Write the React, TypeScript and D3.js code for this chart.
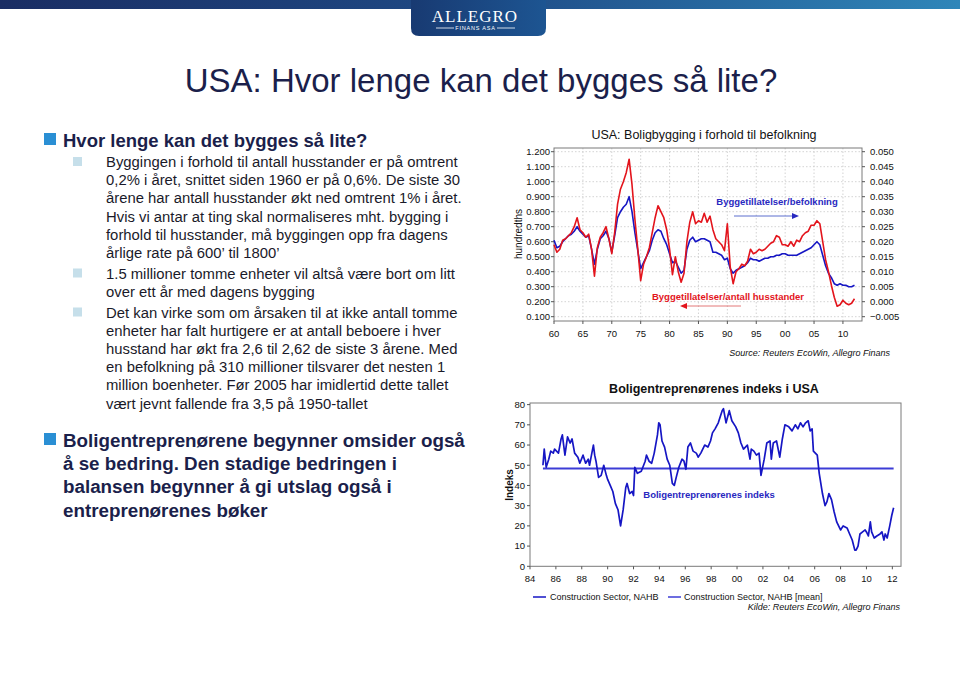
import React from "react";
import * as d3 from "d3";

const FONT = "'Liberation Sans', Arial, Helvetica, sans-serif";
const NAVY = "#1b1f4b";
const RED = "#e3141c";
const BLUE = "#1616c4";
const MEAN_BLUE = "#3c3cd6";

// top chart, half-yearly samples starting 1960
const topStart = 1960;
// building permits / households (left axis, hundredths)
const permitsPerHousehold = [
  0.58, 0.53, 0.55, 0.61, 0.62, 0.64, 0.66, 0.7, 0.76, 0.68,
  0.66, 0.63, 0.65, 0.55, 0.37, 0.56, 0.63, 0.66, 0.7, 0.62,
  0.52, 0.66, 0.85, 0.95, 1.0, 1.06, 1.15, 0.98, 0.75, 0.55,
  0.34, 0.45, 0.5, 0.56, 0.66, 0.76, 0.84, 0.8, 0.76, 0.68,
  0.55, 0.38, 0.5, 0.4, 0.33, 0.39, 0.6, 0.73, 0.8, 0.72,
  0.74, 0.73, 0.79, 0.73, 0.77, 0.68, 0.62, 0.6, 0.58, 0.54,
  0.72, 0.43, 0.32, 0.4, 0.42, 0.45, 0.44, 0.47, 0.55, 0.52,
  0.53, 0.55, 0.54, 0.55, 0.57, 0.59, 0.6, 0.64, 0.63, 0.58,
  0.58, 0.57, 0.6, 0.57, 0.61, 0.6, 0.64, 0.66, 0.67, 0.71,
  0.71, 0.74, 0.72, 0.6, 0.48, 0.4, 0.31, 0.23, 0.17, 0.18,
  0.21, 0.19, 0.18, 0.19, 0.22,
];
// building permits / population (right axis)
const permitsPerCapita = [
  0.0205, 0.018, 0.0185, 0.02, 0.021, 0.022, 0.0225, 0.0235, 0.025, 0.0235,
  0.0225, 0.0215, 0.022, 0.0175, 0.0125, 0.0175, 0.021, 0.022, 0.0235, 0.021,
  0.0165, 0.022, 0.028, 0.03, 0.0315, 0.0325, 0.035, 0.03, 0.023, 0.017,
  0.011, 0.013, 0.015, 0.017, 0.0205, 0.023, 0.024, 0.0235, 0.021, 0.019,
  0.016, 0.013, 0.0135, 0.0115, 0.0095, 0.0105, 0.0175, 0.0205, 0.0215, 0.02,
  0.0205, 0.021, 0.021, 0.0205, 0.02, 0.0165, 0.0165, 0.016, 0.0155, 0.014,
  0.0145, 0.011, 0.0095, 0.0105, 0.011, 0.0115, 0.012, 0.013, 0.0145, 0.014,
  0.014, 0.0135, 0.014, 0.0145, 0.0145, 0.015, 0.015, 0.0155, 0.0155, 0.016,
  0.016, 0.0155, 0.0155, 0.0155, 0.0155, 0.016, 0.0165, 0.017, 0.0175, 0.018,
  0.019, 0.02, 0.019, 0.0155, 0.012, 0.0095, 0.008, 0.006, 0.0055, 0.006,
  0.0055, 0.0055, 0.005, 0.005, 0.0055,
];
const topLeftTicks = [1.2, 1.1, 1.0, 0.9, 0.8, 0.7, 0.6, 0.5, 0.4, 0.3, 0.2, 0.1];
const topRightTicks = [0.05, 0.045, 0.04, 0.035, 0.03, 0.025, 0.02, 0.015, 0.01, 0.005, 0, -0.005];
const topYearTicks = [1960, 1965, 1970, 1975, 1980, 1985, 1990, 1995, 2000, 2005, 2010];

// bottom chart: NAHB housing market index
const nahbYears = [
  1985.0, 1985.1, 1985.25, 1985.45, 1985.6, 1985.8, 1985.9, 1986.2, 1986.4, 1986.5,
  1986.7, 1986.9, 1987.1, 1987.25, 1987.45, 1987.7, 1987.85, 1988.1, 1988.3, 1988.5,
  1988.6, 1988.75, 1988.9, 1989.0, 1989.1, 1989.3, 1989.5, 1989.7, 1989.9, 1990.0,
  1990.2, 1990.4, 1990.6, 1990.8, 1991.0, 1991.2, 1991.4, 1991.5, 1991.7, 1991.9,
  1992.0, 1992.1, 1992.3, 1992.6, 1992.9, 1993.0, 1993.2, 1993.4, 1993.6, 1993.85,
  1993.95, 1994.05, 1994.2, 1994.4, 1994.6, 1994.8, 1995.0, 1995.15, 1995.3, 1995.5,
  1995.75, 1995.9, 1996.05, 1996.2, 1996.4, 1996.6, 1996.85, 1997.0, 1997.2, 1997.5,
  1997.75, 1997.95, 1998.1, 1998.3, 1998.55, 1998.85, 1998.95, 1999.15, 1999.4, 1999.6,
  1999.9, 2000.1, 2000.3, 2000.5, 2000.8, 2001.0, 2001.1, 2001.3, 2001.5, 2001.7,
  2001.85, 2002.1, 2002.3, 2002.55, 2002.65, 2002.8, 2003.05, 2003.3, 2003.5, 2003.7,
  2004.0, 2004.25, 2004.5, 2004.7, 2004.9, 2005.1, 2005.3, 2005.5, 2005.65, 2005.8,
  2005.9, 2006.2, 2006.35, 2006.6, 2006.8, 2006.95, 2007.1, 2007.3, 2007.5, 2007.7,
  2008.0, 2008.2, 2008.5, 2008.7, 2008.9, 2009.1, 2009.2, 2009.35, 2009.5, 2009.7,
  2009.9, 2010.0, 2010.15, 2010.3, 2010.4, 2010.6, 2010.8, 2011.05, 2011.2, 2011.35,
  2011.45, 2011.6, 2011.8, 2011.95, 2012.1,
];
const nahbValues = [
  50, 58, 49, 53, 57, 56, 58, 56, 63, 65,
  55, 64, 61, 63, 56, 54, 51, 55, 51, 53,
  50, 55, 60, 55, 52, 44, 45, 50, 45, 43,
  40, 37, 31, 28, 20, 28, 39, 41, 36, 37,
  35, 49, 46, 47, 52, 55, 52, 51, 56, 65,
  71, 70, 62, 59, 53, 50, 41, 40, 44, 49,
  53, 52, 48, 59, 61, 57, 56, 54, 56, 60,
  59, 62, 66, 68, 71, 77, 78, 71, 77, 72,
  69, 66, 61, 58, 60, 53, 58, 57, 55, 56,
  45, 53, 61, 62, 53, 61, 62, 54, 63, 70,
  69, 67, 70, 68, 71, 69, 71, 72, 67, 68,
  57, 55, 46, 36, 30, 32, 36, 33, 27, 22,
  18, 20, 19, 16, 13, 8, 8, 10, 16, 17,
  18, 17, 15, 22, 17, 14, 15, 16, 17, 13,
  16, 14, 20, 25, 29,
];
const nahbMean = 48.4;
const nahbYearTicks = [1984, 1986, 1988, 1990, 1992, 1994, 1996, 1998, 2000, 2002, 2004, 2006, 2008, 2010, 2012];
const nahbValueTicks = [0, 10, 20, 30, 40, 50, 60, 70, 80];

const bulletA = [
  "Byggingen i forhold til antall husstander er på omtrent",
  "0,2% i året, snittet siden 1960 er på 0,6%. De siste 30",
  "årene har antall husstander økt ned omtrent 1% i året.",
  "Hvis vi antar at ting skal normaliseres mht. bygging i",
  "forhold til husstander, må byggingen opp fra dagens",
  "årlige rate på 600’ til 1800’",
];
const bulletB = [
  "1.5 millioner tomme enheter vil altså være bort om litt",
  "over ett år med dagens bygging",
];
const bulletC = [
  "Det kan virke som om årsaken til at ikke antall tomme",
  "enheter har falt hurtigere er at antall beboere i hver",
  "husstand har økt fra 2,6 til 2,62 de siste 3 årene. Med",
  "en befolkning på 310 millioner tilsvarer det nesten 1",
  "million boenheter. Før 2005 har imidlertid dette tallet",
  "vært jevnt fallende fra 3,5 på 1950-tallet",
];
const bulletMain2 = [
  "Boligentreprenørene begynner omsider også",
  "å se bedring. Den stadige bedringen i",
  "balansen begynner å gi utslag også i",
  "entreprenørenes bøker",
];

const yy = (y: number) => d3.format("02d")(y % 100);

function SubBullet({ lines, y }: { lines: string[]; y: number }) {
  return (
    <g>
      <rect x={73} y={y - 10} width={9} height={9} fill="#c6dfea" />
      {lines.map((l, i) => (
        <text key={i} x={106} y={y + i * 18.2} fontSize={14.85} fill="#1a1a2a">
          {l}
        </text>
      ))}
    </g>
  );
}

export default function App() {
  // top chart scales
  const tf = { l: 554, r: 862, t: 148, b: 321 };
  const tx = d3.scaleLinear().domain([1960, 2013.3]).range([tf.l, tf.r]);
  const tyL = d3.scaleLinear().domain([0.1, 1.2]).range([316.7, 151.7]);
  const tyR = d3.scaleLinear().domain([-0.005, 0.05]).range([316.7, 151.7]);
  const redPath = d3
    .line<number>()
    .x((_, i) => tx(topStart + i * 0.5))
    .y((d) => tyL(d))(permitsPerHousehold);
  const bluePath = d3
    .line<number>()
    .x((_, i) => tx(topStart + i * 0.5))
    .y((d) => tyR(d))(permitsPerCapita);

  // bottom chart scales
  const bf = { l: 530, r: 901, t: 403, b: 566.3 };
  const bx = d3.scaleLinear().domain([1984, 2012.67]).range([bf.l, bf.r]);
  const by = d3.scaleLinear().domain([0, 80.8]).range([bf.b, bf.t]);
  const nahbPath = d3
    .line<number>()
    .x((_, i) => bx(nahbYears[i]))
    .y((d) => by(d))(nahbValues);

  const fmt3 = d3.format(".3f");

  return (
    <svg
      width={960}
      height={679}
      style={{ position: "absolute", left: 0, top: 0, fontFamily: FONT }}
    >
      <defs>
        <linearGradient id="band" x1="0" x2="1" y1="0" y2="0">
          <stop offset="0" stopColor="#1a2d63" />
          <stop offset="0.5" stopColor="#1f4b86" />
          <stop offset="1" stopColor="#2f86b9" />
        </linearGradient>
        <linearGradient id="tab" x1="0" x2="1" y1="0" y2="0">
          <stop offset="0" stopColor="#183a72" />
          <stop offset="1" stopColor="#1d5592" />
        </linearGradient>
      </defs>
      <rect x={0} y={0} width={960} height={679} fill="#fff" />

      {/* header */}
      <rect x={0} y={0} width={960} height={9} fill="url(#band)" />
      <path d="M411,0 H546 V28 Q546,36 538,36 H419 Q411,36 411,28 Z" fill="url(#tab)" />
      <text x={475} y={22} textAnchor="middle" fill="#fff" fontFamily="'Liberation Serif', 'DejaVu Serif', serif" fontSize={17} letterSpacing={1}>
        ALLEGRO
      </text>
      <line x1={436} x2={454} y1={28} y2={28} stroke="#fff" strokeWidth={0.8} />
      <line x1={497} x2={515} y1={28} y2={28} stroke="#fff" strokeWidth={0.8} />
      <text x={475.5} y={30} textAnchor="middle" fill="#fff" fontSize={5.5} letterSpacing={0.8}>
        FINANS ASA
      </text>

      {/* title */}
      <text x={481} y={92} textAnchor="middle" fontSize={33} fill={NAVY}>
        USA: Hvor lenge kan det bygges så lite?
      </text>

      {/* bullets */}
      <rect x={44} y={133} width={12} height={12} fill="#2a8fd4" />
      <text x={63} y={147} fontSize={18.5} fontWeight="bold" fill={NAVY}>
        Hvor lenge kan det bygges så lite?
      </text>
      <SubBullet lines={bulletA} y={167} />
      <SubBullet lines={bulletB} y={278.5} />
      <SubBullet lines={bulletC} y={317.5} />

      <rect x={44} y={433} width={12} height={12} fill="#2a8fd4" />
      {bulletMain2.map((l, i) => (
        <text key={i} x={63} y={447 + i * 23.2} fontSize={18.8} fontWeight="bold" fill={NAVY}>
          {l}
        </text>
      ))}

      {/* ---- top chart ---- */}
      <text x={704} y={139} textAnchor="middle" fontSize={12.5} fill="#111">
        USA: Boligbygging i forhold til befolkning
      </text>
      <g stroke="#c8c8c8" strokeWidth={0.8} strokeDasharray="1.5,2">
        {topLeftTicks.map((t) => (
          <line key={t} x1={tf.l} x2={tf.r} y1={tyL(t)} y2={tyL(t)} />
        ))}
        {topYearTicks.slice(1).map((t) => (
          <line key={t} x1={tx(t)} x2={tx(t)} y1={tf.t} y2={tf.b} />
        ))}
      </g>
      <rect x={tf.l} y={tf.t} width={tf.r - tf.l} height={tf.b - tf.t} fill="none" stroke="#7a7a7a" strokeWidth={1} />
      <g fill="#111" fontSize={9.5}>
        {topLeftTicks.map((t) => (
          <g key={t}>
            <line x1={tf.l - 3} x2={tf.l} y1={tyL(t)} y2={tyL(t)} stroke="#555" />
            <text x={550} y={tyL(t) + 3.3} textAnchor="end">
              {fmt3(t)}
            </text>
          </g>
        ))}
        {topRightTicks.map((t) => (
          <g key={t}>
            <line x1={tf.r} x2={tf.r + 3} y1={tyR(t)} y2={tyR(t)} stroke="#555" />
            <text x={870} y={tyR(t) + 3.3}>
              {fmt3(t)}
            </text>
          </g>
        ))}
        {topYearTicks.map((t) => (
          <g key={t}>
            <line x1={tx(t)} x2={tx(t)} y1={tf.b} y2={tf.b + 3} stroke="#555" />
            <text x={tx(t)} y={336.5} textAnchor="middle">
              {yy(t)}
            </text>
          </g>
        ))}
      </g>
      <text transform="translate(522,234) rotate(-90)" textAnchor="middle" fontSize={10} fill="#111">
        hundredths
      </text>
      <path d={bluePath ?? ""} fill="none" stroke={BLUE} strokeWidth={1.6} strokeLinejoin="round" />
      <path d={redPath ?? ""} fill="none" stroke={RED} strokeWidth={1.6} strokeLinejoin="round" />
      <text x={777} y={204.5} textAnchor="middle" fontSize={9.5} fontWeight="bold" fill="#2828c0">
        Byggetillatelser/befolkning
      </text>
      <line x1={734} x2={793} y1={216} y2={216} stroke="#4a5fc8" strokeWidth={0.9} />
      <polygon points="792,213 799,216 792,219" fill="#2828c0" />
      <text x={728} y={299.5} textAnchor="middle" fontSize={9.5} fontWeight="bold" fill={RED}>
        Byggetillatelser/antall husstander
      </text>
      <line x1={686} x2={741} y1={306} y2={306} stroke="#e06a6a" strokeWidth={0.9} />
      <polygon points="687,303 680,306 687,309" fill={RED} />
      <text x={890} y={356} textAnchor="end" fontSize={9} fontStyle="italic" fill="#111">
        Source: Reuters EcoWin, Allegro Finans
      </text>

      {/* ---- bottom chart ---- */}
      <text x={714} y={392.5} textAnchor="middle" fontSize={12.5} fontWeight="bold" fill="#111">
        Boligentreprenørenes indeks i USA
      </text>
      <rect x={bf.l} y={bf.t} width={bf.r - bf.l} height={bf.b - bf.t} fill="none" stroke="#7a7a7a" strokeWidth={1} />
      <g fill="#111" fontSize={9.5}>
        {nahbValueTicks.map((t) => (
          <g key={t}>
            <line x1={bf.l - 3} x2={bf.l} y1={by(t)} y2={by(t)} stroke="#555" />
            <text x={525} y={by(t) + 3.3} textAnchor="end">
              {t}
            </text>
          </g>
        ))}
        {nahbYearTicks.map((t) => (
          <g key={t}>
            <line x1={bx(t)} x2={bx(t)} y1={bf.b} y2={bf.b + 3} stroke="#555" />
            <text x={bx(t)} y={581.5} textAnchor="middle">
              {yy(t)}
            </text>
          </g>
        ))}
      </g>
      <text transform="translate(513,485) rotate(-90)" textAnchor="middle" fontSize={10} fontWeight="bold" fill="#111">
        Indeks
      </text>
      <line
        x1={bx(nahbYears[0])}
        x2={bx(nahbYears[nahbYears.length - 1])}
        y1={by(nahbMean)}
        y2={by(nahbMean)}
        stroke={MEAN_BLUE}
        strokeWidth={2}
      />
      <path d={nahbPath ?? ""} fill="none" stroke={BLUE} strokeWidth={1.7} strokeLinejoin="round" />
      <text x={709} y={497.5} textAnchor="middle" fontSize={9.5} fontWeight="bold" fill="#2828c0">
        Boligentreprenørenes indeks
      </text>

      <g fontSize={9} fill="#111">
        <line x1={533} x2={546} y1={597} y2={597} stroke={BLUE} strokeWidth={1.5} />
        <text x={550} y={600}>Construction Sector, NAHB</text>
        <line x1={668} x2={681} y1={597} y2={597} stroke={MEAN_BLUE} strokeWidth={1.5} />
        <text x={684} y={600}>Construction Sector, NAHB [mean]</text>
        <text x={900} y={610} textAnchor="end" fontStyle="italic">
          Kilde: Reuters EcoWin, Allegro Finans
        </text>
      </g>
    </svg>
  );
}
